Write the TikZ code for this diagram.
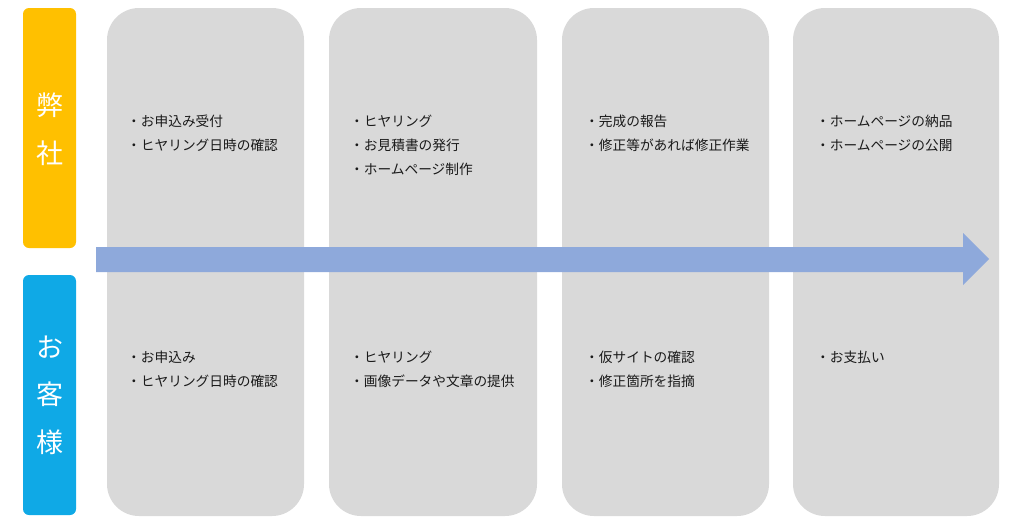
\documentclass[tikz,border=0pt]{standalone}
\usepackage{fontspec}
\setmainfont{Noto Sans CJK JP}
\definecolor{cOrange}{HTML}{FFC000}
\definecolor{cBlue}{HTML}{0FA9E6}
\definecolor{cGray}{HTML}{D9D9D9}
\definecolor{cArrow}{HTML}{8EA9DB}
\definecolor{cText}{HTML}{1A1A1A}
\begin{document}
\begin{tikzpicture}[x=1pt,y=-1pt,
  col/.style={fill=cGray,draw=none,rounded corners=32pt},
  side/.style={draw=none,rounded corners=6pt},
  sidelabel/.style={text=white,font=\fontsize{27}{47.5}\selectfont,align=center,inner sep=0pt},
  items/.style={anchor=north west,inner sep=0pt,align=left,text=cText,font=\fontsize{13.7}{24}\selectfont}]
\useasboundingbox (0,0) rectangle (1024,530);
% columns
\fill[col] (107,8) rectangle (304,516);
\fill[col] (329,8) rectangle (537,516);
\fill[col] (562,8) rectangle (769,516);
\fill[col] (793,8) rectangle (999,516);
% side bars
\fill[side,cOrange] (23,8) rectangle (76,248);
\fill[side,cBlue] (23,275) rectangle (76,515);
\node[sidelabel] (we) at (49.5,129) {弊\\社};
\node[sidelabel] (you) at (49.5,395) {お\\客\\様};
% arrow
\fill[cArrow] (96,247) -- (963,247) -- (963,233) -- (989,259) -- (963,285) -- (963,272) -- (96,272) -- cycle;
% items
\node[items] (a1) at (127,115) {・お申込み受付\\・ヒヤリング日時の確認};
\node[items] (a2) at (350,115) {・ヒヤリング\\・お見積書の発行\\・ホームページ制作};
\node[items] (a3) at (585,115) {・完成の報告\\・修正等があれば修正作業};
\node[items] (a4) at (816,115) {・ホームページの納品\\・ホームページの公開};
\node[items] (b1) at (127,351) {・お申込み\\・ヒヤリング日時の確認};
\node[items] (b2) at (350,351) {・ヒヤリング\\・画像データや文章の提供};
\node[items] (b3) at (585,351) {・仮サイトの確認\\・修正箇所を指摘};
\node[items] (b4) at (816,351) {・お支払い};
\end{tikzpicture}
\end{document}
